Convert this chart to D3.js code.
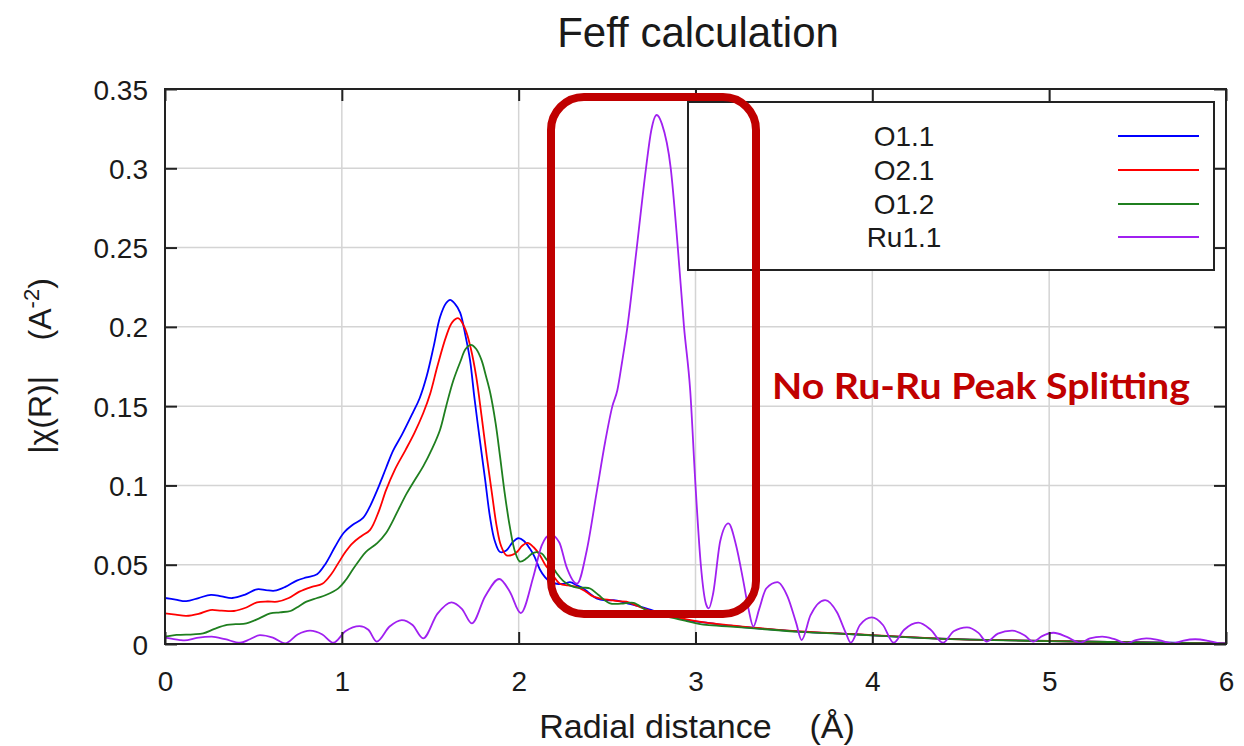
<!DOCTYPE html>
<html>
<head>
<meta charset="utf-8">
<script src="https://cdn.jsdelivr.net/npm/d3@7"></script>
<style>
  body { margin: 0; background: #fff; }
  text { font-family: "Liberation Sans", Arial, sans-serif; fill: #1a1a1a; }
</style>
</head>
<body>
<svg id="chart"></svg>
<script>
var width = 1244;
var height = 746;
var margin = { top: 89, right: 18, bottom: 102, left: 165 };

var seriesNames = ["O1.1", "O2.1", "O1.2", "Ru1.1"];
var seriesColors = ["#0000ff", "#ff0000", "#1f7f1f", "#a020f0"];

var xTicks = [0, 1, 2, 3, 4, 5, 6];
var xTickLabels = ["0", "1", "2", "3", "4", "5", "6"];
var yTicks = [0, 0.05, 0.1, 0.15, 0.2, 0.25, 0.3, 0.35];
var yTickLabels = ["0", "0.05", "0.1", "0.15", "0.2", "0.25", "0.3", "0.35"];

// [R, |chi(R)|]
var o11 = [[0, 0.029], [0.06, 0.028], [0.12, 0.027], [0.19, 0.029], [0.26, 0.031], [0.32, 0.030], [0.38, 0.029],
  [0.45, 0.031], [0.52, 0.0345], [0.57, 0.034], [0.62, 0.0336], [0.68, 0.036], [0.745, 0.040], [0.80, 0.042],
  [0.86, 0.044], [0.91, 0.051], [0.96, 0.061], [1.01, 0.070], [1.06, 0.075], [1.12, 0.0795], [1.16, 0.087],
  [1.20, 0.097], [1.25, 0.111], [1.29, 0.122], [1.34, 0.132], [1.40, 0.1455], [1.44, 0.155], [1.48, 0.169],
  [1.52, 0.188], [1.555, 0.206], [1.59, 0.215], [1.612, 0.217], [1.64, 0.2145], [1.669, 0.209], [1.70, 0.194],
  [1.725, 0.179], [1.75, 0.155], [1.78, 0.129], [1.81, 0.104], [1.838, 0.080], [1.865, 0.065], [1.895, 0.058],
  [1.93, 0.059], [1.965, 0.064], [1.998, 0.0667], [2.03, 0.065], [2.064, 0.060], [2.09, 0.055], [2.12, 0.047],
  [2.15, 0.042], [2.18, 0.039], [2.215, 0.038], [2.26, 0.038], [2.29, 0.039], [2.33, 0.037], [2.366, 0.035],
  [2.40, 0.032], [2.44, 0.0288], [2.49, 0.0275], [2.536, 0.0277], [2.57, 0.027], [2.61, 0.0258], [2.687, 0.0235],
  [2.76, 0.021], [2.84, 0.0183], [2.95, 0.015], [3.06, 0.0135], [3.2, 0.0115], [3.35, 0.0099], [3.59, 0.0078],
  [3.87, 0.0063], [4.0, 0.0055], [4.35, 0.0035], [4.55, 0.0028], [5.0, 0.0019], [5.5, 0.0011], [6.0, 0.0004]];

var o21 = [[0, 0.0193], [0.06, 0.0185], [0.12, 0.0177], [0.19, 0.019], [0.255, 0.0214], [0.32, 0.021], [0.39, 0.0208],
  [0.46, 0.023], [0.52, 0.0263], [0.58, 0.0268], [0.635, 0.0267], [0.70, 0.029], [0.76, 0.033], [0.83, 0.036],
  [0.89, 0.038], [0.94, 0.044], [0.98, 0.051], [1.02, 0.058], [1.06, 0.0635], [1.11, 0.068], [1.16, 0.072],
  [1.21, 0.084], [1.25, 0.097], [1.30, 0.110], [1.36, 0.1223], [1.41, 0.133], [1.46, 0.1455], [1.50, 0.158],
  [1.54, 0.175], [1.59, 0.194], [1.625, 0.203], [1.66, 0.2054], [1.70, 0.198], [1.73, 0.186], [1.76, 0.1686],
  [1.79, 0.144], [1.82, 0.118], [1.85, 0.094], [1.876, 0.074], [1.90, 0.062], [1.93, 0.056], [1.96, 0.056],
  [1.99, 0.058], [2.02, 0.062], [2.05, 0.0638], [2.085, 0.061], [2.12, 0.056], [2.15, 0.050], [2.18, 0.0456],
  [2.234, 0.038], [2.28, 0.037], [2.33, 0.036], [2.38, 0.033], [2.42, 0.030], [2.47, 0.0285], [2.517, 0.0277],
  [2.56, 0.027], [2.61, 0.0267], [2.65, 0.025], [2.705, 0.0225], [2.77, 0.020], [2.84, 0.0183], [2.95, 0.0155],
  [3.06, 0.0135], [3.2, 0.0118], [3.35, 0.0101], [3.59, 0.008], [3.87, 0.0064], [4.0, 0.0056], [4.35, 0.0036],
  [4.55, 0.0028], [5.0, 0.0019], [5.5, 0.001], [6.0, 0.0004]];

var o12 = [[0, 0.0046], [0.065, 0.0057], [0.16, 0.0061], [0.216, 0.0067], [0.28, 0.0095], [0.35, 0.012], [0.40, 0.0125],
  [0.46, 0.013], [0.53, 0.016], [0.595, 0.0193], [0.65, 0.020], [0.71, 0.0208], [0.76, 0.024], [0.80, 0.0267],
  [0.86, 0.029], [0.91, 0.0309], [0.98, 0.0351], [1.02, 0.040], [1.06, 0.0467], [1.10, 0.053], [1.135, 0.058],
  [1.20, 0.0636], [1.25, 0.070], [1.29, 0.078], [1.33, 0.087], [1.367, 0.095], [1.41, 0.103], [1.46, 0.112],
  [1.51, 0.123], [1.555, 0.135], [1.59, 0.150], [1.63, 0.166], [1.67, 0.178], [1.70, 0.186], [1.73, 0.1886],
  [1.76, 0.186], [1.79, 0.179], [1.815, 0.169], [1.84, 0.158], [1.87, 0.139], [1.895, 0.118], [1.92, 0.096],
  [1.95, 0.074], [1.98, 0.058], [2.007, 0.052], [2.045, 0.054], [2.075, 0.057], [2.10, 0.058], [2.13, 0.057],
  [2.16, 0.053], [2.19, 0.049], [2.215, 0.0446], [2.25, 0.040], [2.29, 0.037], [2.33, 0.0355], [2.37, 0.0355],
  [2.404, 0.035], [2.45, 0.031], [2.517, 0.0256], [2.58, 0.0255], [2.65, 0.026], [2.72, 0.0214], [2.78, 0.019],
  [2.84, 0.0172], [2.95, 0.0145], [3.06, 0.012], [3.2, 0.011], [3.35, 0.0097], [3.59, 0.0077], [3.87, 0.0062],
  [4.0, 0.0054], [4.35, 0.0034], [4.55, 0.0027], [5.0, 0.0018], [5.5, 0.001], [6.0, 0.0004]];

var ru11 = [[0, 0.004], [0.085, 0.0025], [0.11, 0.0023], [0.18, 0.0038], [0.264, 0.0046], [0.34, 0.003], [0.424, 0.0008],
  [0.48, 0.003], [0.537, 0.0056], [0.61, 0.004], [0.68, 0.0004], [0.75, 0.006], [0.82, 0.0084], [0.89, 0.006],
  [0.952, 0.0008], [1.02, 0.008], [1.10, 0.0113], [1.15, 0.009], [1.197, 0.0015], [1.27, 0.011], [1.339, 0.0151],
  [1.40, 0.012], [1.46, 0.0036], [1.54, 0.019], [1.62, 0.0263], [1.68, 0.022], [1.735, 0.013], [1.81, 0.030],
  [1.89, 0.041], [1.95, 0.033], [2.012, 0.0195], [2.083, 0.0424], [2.13, 0.062], [2.18, 0.069], [2.23, 0.064],
  [2.27, 0.0488], [2.33, 0.038], [2.385, 0.059], [2.44, 0.095], [2.49, 0.128], [2.53, 0.150], [2.558, 0.160],
  [2.585, 0.178], [2.615, 0.20], [2.668, 0.25], [2.72, 0.30], [2.75, 0.324], [2.78, 0.3336], [2.81, 0.328],
  [2.86, 0.30], [2.90, 0.25], [2.935, 0.20], [2.97, 0.16], [3.0, 0.1], [3.03, 0.05], [3.06, 0.025], [3.075, 0.0225],
  [3.10, 0.032], [3.14, 0.065], [3.186, 0.0761], [3.23, 0.062], [3.27, 0.040], [3.30, 0.022], [3.327, 0.011],
  [3.36, 0.022], [3.40, 0.035], [3.463, 0.039], [3.52, 0.030], [3.57, 0.013], [3.60, 0.0025], [3.65, 0.018],
  [3.733, 0.0277], [3.80, 0.020], [3.85, 0.007], [3.878, 0.0008], [3.93, 0.012], [3.997, 0.0168], [4.06, 0.012],
  [4.12, 0.0008], [4.18, 0.009], [4.26, 0.0135], [4.33, 0.009], [4.40, 0.0008], [4.46, 0.008], [4.535, 0.0105],
  [4.60, 0.007], [4.647, 0.0015], [4.71, 0.0065], [4.79, 0.0084], [4.86, 0.0055], [4.91, 0.0015], [4.96, 0.005],
  [5.025, 0.0071], [5.10, 0.0045], [5.175, 0.0008], [5.23, 0.0035], [5.30, 0.0046], [5.37, 0.003], [5.44, 0.0004],
  [5.49, 0.0025], [5.55, 0.0036], [5.62, 0.0025], [5.70, 0.0004], [5.76, 0.0022], [5.826, 0.003], [5.90, 0.002],
  [5.967, 0.0004], [6.0, 0.0004]];

var seriesData = [o11, o21, o12, ru11];

var svg = d3.select("#chart").attr("width", width).attr("height", height);

var x = d3.scaleLinear().domain([0, 6]).range([margin.left, width - margin.right]);
var y = d3.scaleLinear().domain([0, 0.35]).range([height - margin.bottom, margin.top]);

var x0 = x.range()[0], x1 = x.range()[1];
var y0 = y.range()[0], y1 = y.range()[1];

// grid
svg.append("g")
  .selectAll("line")
  .data(xTicks.slice(1, -1))
  .enter().append("line")
  .attr("x1", d => x(d)).attr("x2", d => x(d))
  .attr("y1", y0).attr("y2", y1)
  .attr("stroke", "#d4d4d4").attr("stroke-width", 1.5);

svg.append("g")
  .selectAll("line")
  .data(yTicks.slice(1, -1))
  .enter().append("line")
  .attr("x1", x0).attr("x2", x1)
  .attr("y1", d => y(d)).attr("y2", d => y(d))
  .attr("stroke", "#d4d4d4").attr("stroke-width", 1.5);

svg.append("clipPath").attr("id", "plotClip")
  .append("rect").attr("x", x0).attr("y", y1).attr("width", x1 - x0).attr("height", y0 - y1);

var smoothLine = d3.line()
  .x(d => x(d[0]))
  .y(d => y(d[1]))
  .curve(d3.curveCatmullRom.alpha(0.5));

var cuspLine = d3.line()
  .x(d => x(d[0]))
  .y(d => y(d[1]))
  .curve(d3.curveMonotoneX);

svg.append("g").attr("clip-path", "url(#plotClip)")
  .selectAll("path")
  .data(seriesData)
  .enter().append("path")
  .attr("d", (d, i) => i == 3 ? cuspLine(d) : smoothLine(d))
  .attr("fill", "none")
  .attr("stroke", (d, i) => seriesColors[i])
  .attr("stroke-width", 1.8)
  .attr("stroke-linejoin", "round");

// axes with inward ticks
var tickLen = 12;

var bottomAxis = svg.append("g")
  .attr("transform", `translate(0,${y0})`)
  .call(d3.axisBottom(x).tickValues(xTicks).tickSize(-tickLen).tickSizeOuter(0).tickPadding(27)
    .tickFormat((d, i) => xTickLabels[i]));

var leftAxis = svg.append("g")
  .attr("transform", `translate(${x0},0)`)
  .call(d3.axisLeft(y).tickValues(yTicks).tickSize(-tickLen).tickSizeOuter(0).tickPadding(17)
    .tickFormat((d, i) => yTickLabels[i]));

var topAxis = svg.append("g")
  .attr("transform", `translate(0,${y1})`)
  .call(d3.axisTop(x).tickValues(xTicks).tickSize(-tickLen).tickSizeOuter(0).tickFormat(""));

var rightAxis = svg.append("g")
  .attr("transform", `translate(${x1},0)`)
  .call(d3.axisRight(y).tickValues(yTicks).tickSize(-tickLen).tickSizeOuter(0).tickFormat(""));

[bottomAxis, leftAxis, topAxis, rightAxis].forEach(function (g) {
  g.select(".domain").remove();
  g.selectAll(".tick line").attr("stroke", "#222").attr("stroke-width", 2);
  g.selectAll(".tick text")
    .attr("fill", "#1a1a1a")
    .style("font-family", "'Liberation Sans', Arial, sans-serif")
    .style("font-size", "28px");
});
leftAxis.selectAll(".tick text").attr("dy", "0.36em");

svg.append("rect")
  .attr("x", x0).attr("y", y1)
  .attr("width", x1 - x0).attr("height", y0 - y1)
  .attr("fill", "none").attr("stroke", "#222").attr("stroke-width", 2);

// legend
var legendBox = { x: 688, y: 102, w: 526, h: 168 };
var legend = svg.append("g");
legend.append("rect")
  .attr("x", legendBox.x).attr("y", legendBox.y)
  .attr("width", legendBox.w).attr("height", legendBox.h)
  .attr("fill", "#fff").attr("stroke", "#222").attr("stroke-width", 2);

var rowY = [136, 170, 204, 237];
legend.selectAll(".legText")
  .data(seriesNames)
  .enter().append("text")
  .attr("class", "legText")
  .attr("x", 904)
  .attr("y", (d, i) => rowY[i])
  .attr("dy", "0.36em")
  .attr("text-anchor", "middle")
  .style("font-size", "28px")
  .text(d => d);

legend.selectAll(".legLine")
  .data(seriesNames)
  .enter().append("line")
  .attr("class", "legLine")
  .attr("x1", 1118).attr("x2", 1199)
  .attr("y1", (d, i) => rowY[i]).attr("y2", (d, i) => rowY[i])
  .attr("stroke", (d, i) => seriesColors[i])
  .attr("stroke-width", 2);

// title and axis labels
svg.append("text")
  .attr("x", 698).attr("y", 47)
  .attr("text-anchor", "middle")
  .style("font-size", "42px")
  .text("Feff calculation");

svg.append("text")
  .attr("x", 697).attr("y", 738)
  .attr("text-anchor", "middle")
  .style("font-size", "34px")
  .style("white-space", "pre")
  .text("Radial distance    (Å)");

var yLabel = svg.append("text")
  .attr("transform", "translate(51,366) rotate(-90)")
  .attr("text-anchor", "middle")
  .style("font-size", "32px")
  .style("white-space", "pre");
yLabel.append("tspan").text("|χ(R)|    (A");
yLabel.append("tspan").attr("baseline-shift", "super").style("font-size", "22px").text("-2");
yLabel.append("tspan").text(")");

// highlight box and note
svg.append("rect")
  .attr("x", 551).attr("y", 97)
  .attr("width", 205).attr("height", 517)
  .attr("rx", 33).attr("ry", 33)
  .attr("fill", "none")
  .attr("stroke", "#c00000")
  .attr("stroke-width", 8);

svg.append("text")
  .attr("x", 772).attr("y", 399)
  .attr("textLength", 418)
  .attr("lengthAdjust", "spacingAndGlyphs")
  .style("font-family", "Lato, 'Open Sans', sans-serif")
  .style("font-weight", "bold")
  .style("font-size", "37px")
  .style("fill", "#c00000")
  .text("No Ru-Ru Peak Splitting");
</script>
</body>
</html>
